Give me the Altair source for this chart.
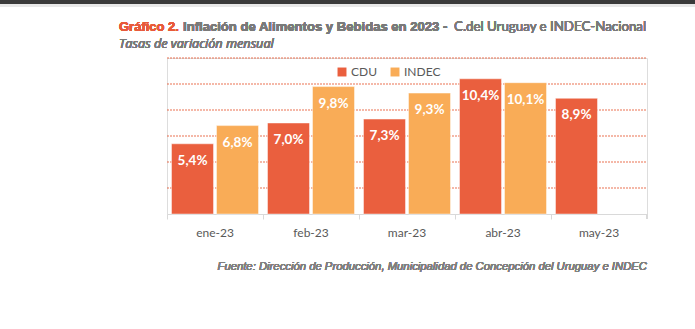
import altair as alt
import pandas as pd

months = ["ene-23", "feb-23", "mar-23", "abr-23", "may-23"]
cdu = [5.4, 7.0, 7.3, 10.4, 8.9]
indec = [6.8, 9.8, 9.3, 10.1, None]
series = ["CDU", "INDEC"]
colors = ["#EA5F3E", "#F9AC57"]
grid_values = [2, 4, 6, 8, 10, 12]

rows = []
for m, c, i in zip(months, cdu, indec):
    for s, v in zip(series, [c, i]):
        if v is not None:
            rows.append({"mes": m, "serie": s, "valor": v,
                         "etiqueta": f"{v:.1f}".replace(".", ",") + "%"})
df = pd.DataFrame(rows)
gdf = pd.DataFrame({"g": grid_values})

W, H = 480, 156
FONT = "Lato"
TOP, LEFT = 58, 167

yscale = alt.Scale(domain=[0, 12])

x = alt.X("mes:N", sort=months, title=None,
          scale=alt.Scale(paddingInner=0, paddingOuter=0),
          axis=alt.Axis(labelAngle=0, bandPosition=0, domainColor="#d9d9d9",
                        tickColor="#d9d9d9", tickSize=5, labelPadding=8,
                        labelFontSize=12, labelColor="#595959", labelFont=FONT))
xo = alt.XOffset("serie:N", sort=series,
                 scale=alt.Scale(domain=series, paddingInner=1/15, paddingOuter=0.1))
y = alt.Y("valor:Q", title=None, scale=yscale, axis=None)

grid = alt.Chart(gdf).mark_rule(color="#E8623F", strokeDash=[2, 1], strokeWidth=1,
                                opacity=0.9).encode(
    y=alt.Y("g:Q", scale=yscale, axis=None), x=alt.value(0), x2=alt.value(W))

bars = alt.Chart(df).mark_bar(stroke="white", strokeOpacity=0.45, strokeWidth=1).encode(
    x=x, xOffset=xo, y=y,
    color=alt.Color("serie:N", sort=series,
                    scale=alt.Scale(domain=series, range=colors),
                    legend=alt.Legend(title=None, orient="none", direction="horizontal",
                                      legendX=169, legendY=8, symbolType="square",
                                      symbolSize=80, symbolStrokeWidth=0,
                                      labelFontSize=12, labelColor="#595959",
                                      labelFont=FONT, columnPadding=12,
                                      labelOffset=3)),
)

labels = alt.Chart(df).mark_text(color="white", fontWeight="bold", fontSize=13.5,
                                 font=FONT, baseline="middle", dy=17).encode(
    x=alt.X("mes:N", sort=months), xOffset=alt.XOffset("serie:N", sort=series),
    y="valor:Q", text="etiqueta:N")

end_tick = alt.Chart(df).mark_rule(color="#d9d9d9").encode(
    x=alt.value(W), y=alt.value(H), y2=alt.value(H + 5))

topbar = alt.Chart(df).mark_rect(color="#3a3a3a").encode(
    x=alt.value(-LEFT), x2=alt.value(695 - LEFT), y=alt.value(-TOP), y2=alt.value(-TOP + 4))
shadow = alt.Chart(df).mark_rect(color="#e8e8e8").encode(
    x=alt.value(-LEFT), x2=alt.value(695 - LEFT), y=alt.value(-TOP + 4), y2=alt.value(-TOP + 7))

TY = 27 - TOP
t1 = alt.Chart(df).mark_text(text="Gráfico 2.", color="#E85A3B", font="Liberation Sans",
                             fontWeight="bold", fontSize=13, align="left").encode(
    x=alt.value(119 - LEFT), y=alt.value(TY))
t2 = alt.Chart(df).mark_text(text="Inflación de Alimentos y Bebidas en 2023 -",
                             color="#7a7a7a", font="Liberation Sans", fontWeight="bold",
                             fontSize=13.1, align="left").encode(
    x=alt.value(183 - LEFT), y=alt.value(TY))
t3 = alt.Chart(df).mark_text(text="C.del Uruguay e INDEC-Nacional", color="#7a7a7a",
                             font=FONT, fontSize=13.3, align="left").encode(
    x=alt.value(454 - LEFT), y=alt.value(TY))
sub = alt.Chart(df).mark_text(text="Tasas de variación mensual", color="#7a7a7a",
                              font="Open Sans", fontStyle="italic", fontSize=12.7,
                              align="left").encode(x=alt.value(119 - LEFT), y=alt.value(44 - TOP))
foot = alt.Chart(df).mark_text(
    text="Fuente: Dirección de Producción, Municipalidad de Concepción del Uruguay e INDEC",
    color="#808080", font="Liberation Sans", fontStyle="italic", fontSize=11.3,
    align="right").encode(x=alt.value(W), y=alt.value(267 - TOP))

chart = alt.layer(topbar, shadow, grid, bars, labels, end_tick, t1, t2, t3, sub, foot).properties(
    width=W, height=H,
    autosize=alt.AutoSizeParams(type="none"),
    padding={"left": LEFT, "top": TOP, "right": 695 - LEFT - W, "bottom": 329 - TOP - H},
).resolve_scale(y="shared").configure_view(stroke=None).configure(background="white")

chart.save("out.html", embed_options={"renderer": "svg", "actions": False})
